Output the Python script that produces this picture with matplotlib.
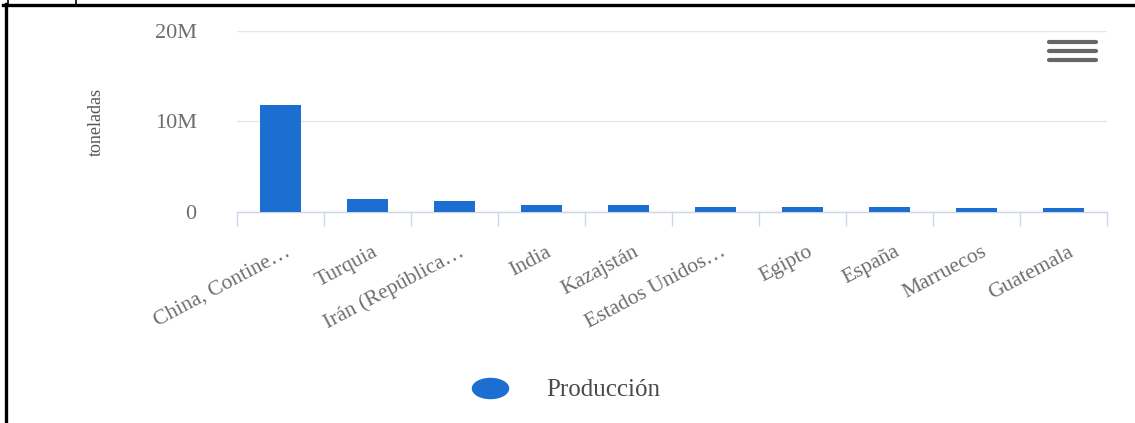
import matplotlib
matplotlib.use("Agg")
import matplotlib.pyplot as plt
from matplotlib.lines import Line2D
from matplotlib.path import Path
from matplotlib.transforms import Affine2D, ScaledTranslation
from matplotlib.ticker import FuncFormatter

# Production by country (tonnes)
countries = ["China, Contine…", "Turquia", "Irán (República…", "India", "Kazajstán",
             "Estados Unidos…", "Egipto", "España", "Marruecos", "Guatemala"]
production = [11.86e6, 1.48e6, 1.19e6, 0.75e6, 0.75e6, 0.57e6, 0.57e6, 0.60e6, 0.41e6, 0.44e6]
y_ticks = [0, 10e6, 20e6]
series_name = "Producción"
y_title = "toneladas"

W, H = 1135, 423
fig = plt.figure(figsize=(W / 100, H / 100), dpi=100)
fig.patch.set_facecolor("white")

SERIF = ["Liberation Serif", "DejaVu Serif"]
BAR = "#1c6ed0"
AXIS = "#ccd6eb"
GRID = "#e6e6e6"
LABEL = "#6e6e6e"

def px(x, y):
    return x / W, 1 - y / H

left, right = 237, 1107
top, bottom = 31, 212
ax = fig.add_axes([left / W, 1 - bottom / H, (right - left) / W, (bottom - top) / H])

x = list(range(len(countries)))
ax.bar(x, production, width=0.46, color=BAR, zorder=3)

ax.set_xlim(-0.5, len(countries) - 0.5)
ax.set_ylim(0, 20e6)
ax.set_yticks(y_ticks)
ax.yaxis.set_major_formatter(FuncFormatter(lambda v, _: "0" if v == 0 else f"{v / 1e6:.0f}M"))
ax.tick_params(axis="y", length=0, pad=29, labelsize=16, labelcolor=LABEL)
for t in ax.get_yticklabels():
    t.set_fontfamily(SERIF)
ax.yaxis.grid(True, color=GRID, linewidth=1)
ax.set_axisbelow(True)

# category boundaries carry the tick marks, labels are placed per category
ax.set_xticks([i - 0.5 for i in range(len(countries) + 1)])
ax.set_xticklabels([])
ax.tick_params(axis="x", length=10, width=1, color=AXIS, direction="out")

for s in ["top", "right", "left"]:
    ax.spines[s].set_visible(False)
ax.spines["bottom"].set_color(AXIS)
ax.spines["bottom"].set_linewidth(1)

label_tr = ax.get_xaxis_transform() + ScaledTranslation(9 / 100, -39 / 100, fig.dpi_scale_trans)
for i, name in enumerate(countries):
    ax.text(i, 0, name, transform=label_tr, rotation=28, rotation_mode="anchor",
            ha="right", va="center", fontsize=15.5, color=LABEL, family=SERIF)

fig.text(*px(96, 122), y_title, rotation=90, ha="center", va="center",
         fontsize=13, color="#555555", family=SERIF)

# legend with an oval marker
oval = Path.unit_circle().transformed(Affine2D().scale(1.8, 1.0))
handle = Line2D([], [], linestyle="", marker=oval, markersize=26, color=BAR)
leg = fig.legend([handle], [series_name], loc="center", bbox_to_anchor=px(563, 390),
                 frameon=False, handletextpad=1.25, prop={"family": SERIF, "size": 18})
for t in leg.get_texts():
    t.set_color("#4a4a4a")

# context menu icon
for yy in (42, 51, 60):
    fig.add_artist(Line2D([1049 / W, 1096 / W], [1 - yy / H, 1 - yy / H],
                          color="#666666", linewidth=3, solid_capstyle="round"))

# outer frame
fig.add_artist(Line2D([3 / W, 1], [1 - 5.5 / H, 1 - 5.5 / H], color="black", linewidth=2.4))
fig.add_artist(Line2D([5.5 / W, 5.5 / W], [0, 1 - 4 / H], color="black", linewidth=2.4))
for xx in (8, 76):
    fig.add_artist(Line2D([xx / W, xx / W], [1, 1 - 4 / H], color="black", linewidth=1.2))

fig.savefig("out.png", dpi=100, facecolor="white")
